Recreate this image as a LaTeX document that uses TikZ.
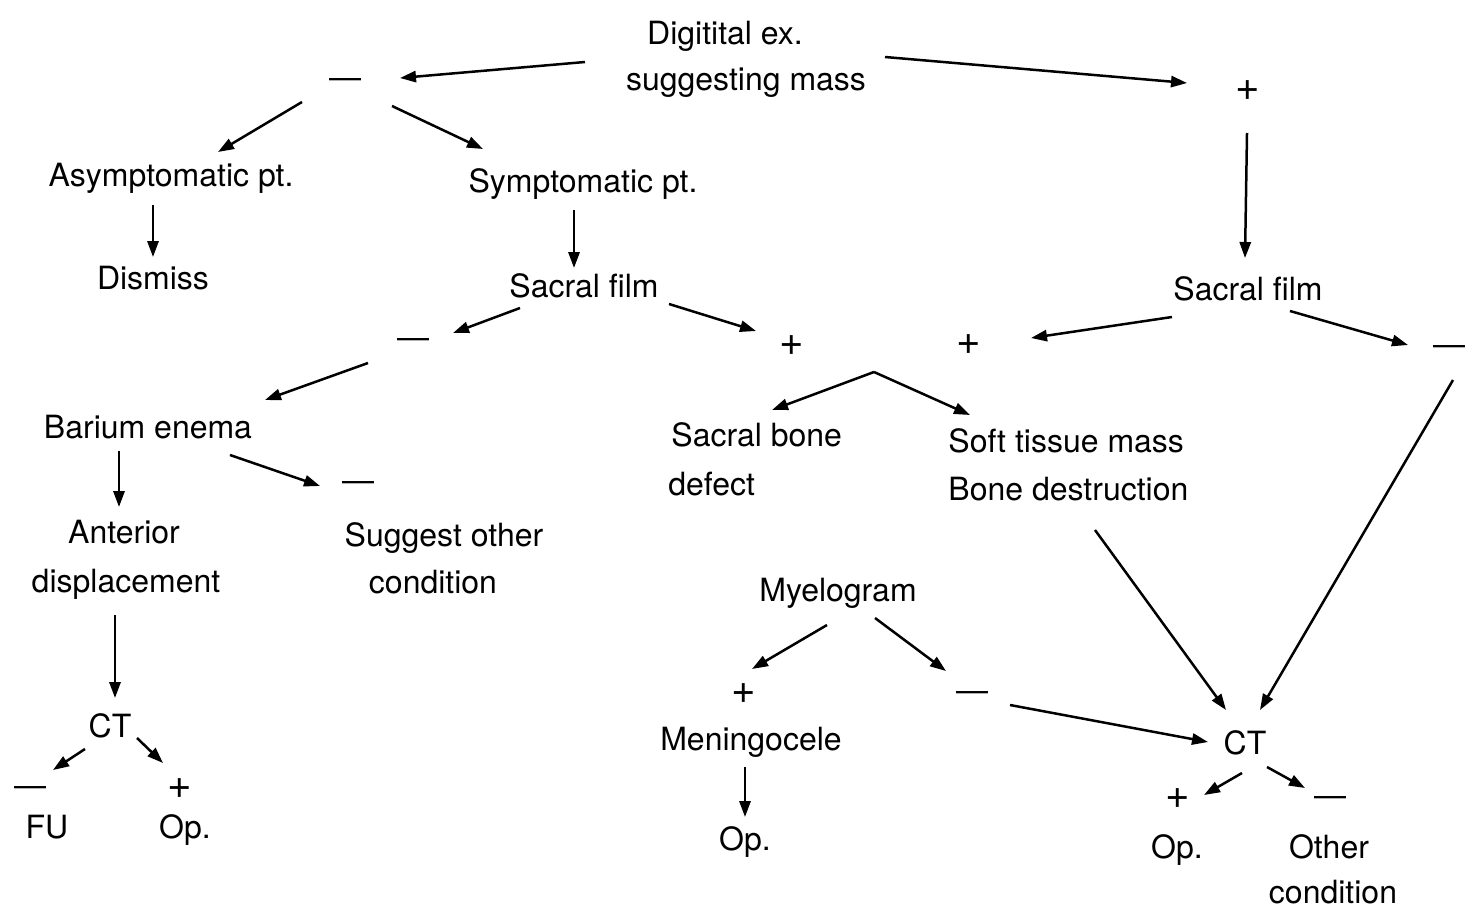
\documentclass[tikz,border=0pt]{standalone}
\usepackage{fontspec}
\setmainfont{TeX Gyre Heros}
\usetikzlibrary{arrows.meta}
\tikzset{
  lbl/.style={inner sep=0pt, anchor=base, font=\fontsize{16}{19}\selectfont},
  lblL/.style={lbl, anchor=base west},
  sgn/.style={inner sep=0pt, anchor=base, font=\fontsize{21}{24}\selectfont},
  arr/.style={line width=1.25pt, -{Triangle[length=8pt,width=5.6pt]}},
}
\begin{document}
\begin{tikzpicture}[x=0.5pt,y=-0.5pt]
\useasboundingbox (0,0) rectangle (1465,909);
% ---- texts ----
\node[lbl] (t1) at (725,45) {Digitital ex.};
\node[lbl] (t2) at (746,91) {suggesting mass};
\node[lbl] (neg1) at (345,88.8) {—};
\node[sgn] (pos1) at (1248,100.5) {+};
\node[lbl] (asym) at (171,187) {Asymptomatic pt.};
\node[lbl] (sym) at (583,192) {Symptomatic pt.};
\node[lbl] (dismiss) at (153,289) {Dismiss};
\node[lbl] (sfL) at (584,297) {Sacral film};
\node[lbl] (sfR) at (1248,300) {Sacral film};
\node[lbl] (neg2) at (413,348.8) {—};
\node[sgn] (pos2) at (792,355.5) {+};
\node[sgn] (pos3) at (969,354.5) {+};
\node[lbl] (neg3) at (1449,355.8) {—};
\node[lbl] (barium) at (148,438) {Barium enema};
\node[lblL] (sbone1) at (671,446) {Sacral bone};
\node[lblL] (sbone2) at (668,495) {defect};
\node[lblL] (soft1) at (948,452) {Soft tissue mass};
\node[lblL] (soft2) at (948,500) {Bone destruction};
\node[lbl] (neg4) at (358,491.8) {—};
\node[lbl] (ant1) at (124,543) {Anterior};
\node[lbl] (ant2) at (126,592) {displacement};
\node[lbl] (sugg1) at (444,546) {Suggest other};
\node[lbl] (sugg2) at (433,593) {condition};
\node[lbl] (myelo) at (838,601) {Myelogram};
\node[sgn] (pos4) at (744,703.5) {+};
\node[lbl] (neg5) at (972,701.8) {—};
\node[lbl] (men) at (751,750) {Meningocele};
\node[lbl] (opM) at (745,850) {Op.};
\node[lbl] (ctL) at (110,737) {CT};
\node[lbl] (negL) at (30,796.8) {—};
\node[sgn] (posL) at (180,798.5) {+};
\node[lbl] (fu) at (47,838) {FU};
\node[lbl] (opL) at (185,838) {Op.};
\node[lbl] (ctR) at (1245,754) {CT};
\node[sgn] (posR) at (1178,808.5) {+};
\node[lbl] (negR) at (1330,806.8) {—};
\node[lbl] (opR) at (1177,858) {Op.};
\node[lbl] (oth1) at (1329,858) {Other};
\node[lbl] (oth2) at (1333,903) {condition};
% ---- connector end points ----
\coordinate (a1s) at (585,62);   \coordinate (a1e) at (400,78);
\coordinate (a2s) at (885,57);   \coordinate (a2e) at (1187,83);
\coordinate (a3s) at (302,102);  \coordinate (a3e) at (218,152);
\coordinate (a4s) at (392,106);  \coordinate (a4e) at (483,149);
\coordinate (a5s) at (153,205);  \coordinate (a5e) at (153,257);
\coordinate (a6s) at (574,210);  \coordinate (a6e) at (574,268);
\coordinate (a7s) at (1247,133); \coordinate (a7e) at (1245,258);
\coordinate (a8s) at (520,308);  \coordinate (a8e) at (453,333);
\coordinate (a9s) at (669,304);  \coordinate (a9e) at (756,331);
\coordinate (a10s) at (1172,317); \coordinate (a10e) at (1031,338);
\coordinate (a11s) at (1290,311); \coordinate (a11e) at (1408,345);
\coordinate (a12s) at (368,363);  \coordinate (a12e) at (265,400);
\coordinate (split) at (874,372);
\coordinate (a13e) at (772,410);  \coordinate (a14e) at (970,415);
\coordinate (a15s) at (119,451);  \coordinate (a15e) at (119,507);
\coordinate (a16s) at (230,455);  \coordinate (a16e) at (320,486);
\coordinate (a17s) at (1453,380); \coordinate (a17e) at (1260,710);
\coordinate (a18s) at (1095,530); \coordinate (a18e) at (1226,710);
\coordinate (a19s) at (827,625);  \coordinate (a19e) at (752,669);
\coordinate (a20s) at (875,618);  \coordinate (a20e) at (946,671);
\coordinate (a21s) at (1010,705); \coordinate (a21e) at (1208,742);
\coordinate (a22s) at (115,615);  \coordinate (a22e) at (115,698);
\coordinate (a23s) at (85,749);   \coordinate (a23e) at (53,770);
\coordinate (a24s) at (137,738);  \coordinate (a24e) at (163,763);
\coordinate (a25s) at (745,767);  \coordinate (a25e) at (745,817);
\coordinate (a26s) at (1242,773); \coordinate (a26e) at (1204,795);
\coordinate (a27s) at (1267,767); \coordinate (a27e) at (1305,788);
% ---- connectors ----
\draw[arr] (a1s) -- (a1e);
\draw[arr] (a2s) -- (a2e);
\draw[arr] (a3s) -- (a3e);
\draw[arr] (a4s) -- (a4e);
\draw[arr] (a5s) -- (a5e);
\draw[arr] (a6s) -- (a6e);
\draw[arr] (a7s) -- (a7e);
\draw[arr] (a8s) -- (a8e);
\draw[arr] (a9s) -- (a9e);
\draw[arr] (a10s) -- (a10e);
\draw[arr] (a11s) -- (a11e);
\draw[arr] (a12s) -- (a12e);
\draw[arr] (split) -- (a13e);
\draw[arr] (split) -- (a14e);
\draw[arr] (a15s) -- (a15e);
\draw[arr] (a16s) -- (a16e);
\draw[arr] (a17s) -- (a17e);
\draw[arr] (a18s) -- (a18e);
\draw[arr] (a19s) -- (a19e);
\draw[arr] (a20s) -- (a20e);
\draw[arr] (a21s) -- (a21e);
\draw[arr] (a22s) -- (a22e);
\draw[arr] (a23s) -- (a23e);
\draw[arr] (a24s) -- (a24e);
\draw[arr] (a25s) -- (a25e);
\draw[arr] (a26s) -- (a26e);
\draw[arr] (a27s) -- (a27e);
\end{tikzpicture}
\end{document}
